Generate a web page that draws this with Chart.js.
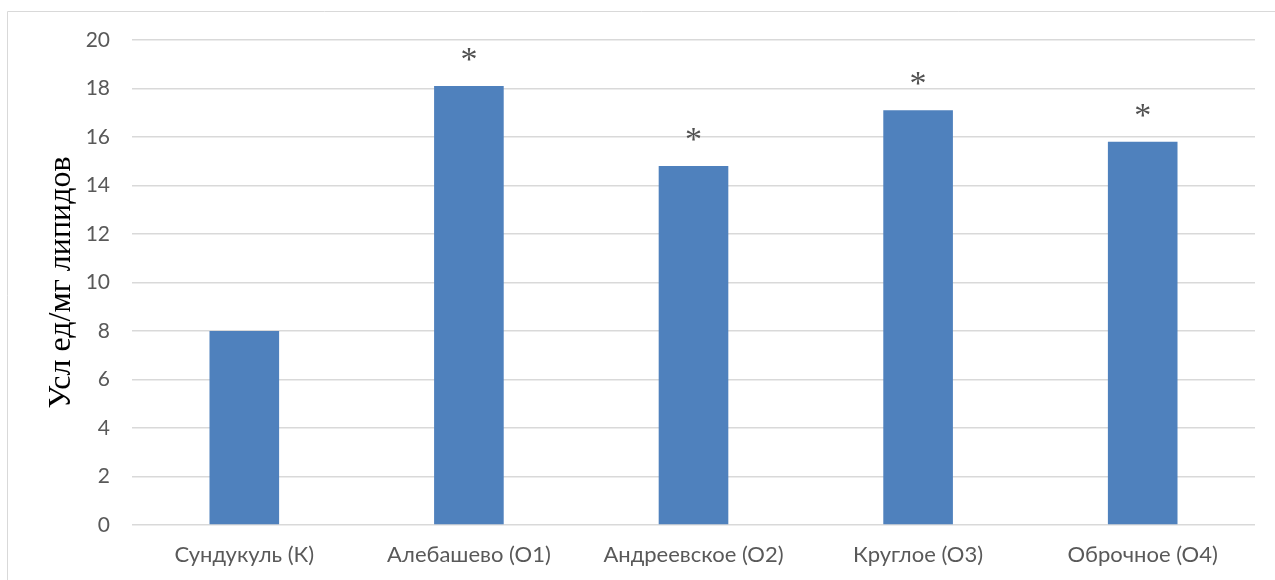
<!DOCTYPE html>
<html>
<head>
<meta charset="utf-8">
<script src="https://cdn.jsdelivr.net/npm/chart.js@4"></script>
<style>
  html, body { margin: 0; padding: 0; background: #fff; }
  #wrap { width: 1275px; height: 580px; position: relative; }
</style>
</head>
<body>
<div id="wrap"><canvas id="c" width="1275" height="580"></canvas></div>
<script>
// Lake sites and measured values
const categories = ['Сундукуль (К)', 'Алебашево (О1)', 'Андреевское (О2)', 'Круглое (О3)', 'Оброчное (О4)'];
const values = [8.0, 18.1, 14.8, 17.1, 15.8];
const marks = ['', '*', '*', '*', '*'];
const yTicks = [0, 2, 4, 6, 8, 10, 12, 14, 16, 18, 20];
const yTitle = 'Усл ед/мг липидов';

// Outer frame of the chart block (left and top edges)
const framePlugin = {
  id: 'frame',
  beforeDraw(chart) {
    const ctx = chart.ctx;
    ctx.save();
    ctx.strokeStyle = '#d9d9d9';
    ctx.lineWidth = 1;
    ctx.beginPath();
    ctx.moveTo(7.5, 580);
    ctx.lineTo(7.5, 11.5);
    ctx.lineTo(1275, 11.5);
    ctx.stroke();
    ctx.restore();
  }
};

// Significance asterisks above the bars
const marksPlugin = {
  id: 'marks',
  afterDatasetsDraw(chart) {
    const ctx = chart.ctx;
    const meta = chart.getDatasetMeta(0);
    const y = chart.scales.y;
    ctx.save();
    ctx.fillStyle = '#505050';
    ctx.font = '34px "Liberation Serif", "DejaVu Serif", serif';
    ctx.textAlign = 'center';
    ctx.textBaseline = 'alphabetic';
    meta.data.forEach((bar, i) => {
      if (!marks[i]) return;
      const top = y.getPixelForValue(values[i]);
      ctx.fillText(marks[i], bar.x, top - 16);
    });
    ctx.restore();
  }
};

new Chart(document.getElementById('c'), {
  type: 'bar',
  data: {
    labels: categories,
    datasets: [{
      data: values,
      backgroundColor: '#4f81bd',
      borderWidth: 0,
      barPercentage: 0.31,
      categoryPercentage: 1.0
    }]
  },
  options: {
    responsive: false,
    animation: false,
    layout: { padding: { left: 42, right: 20, top: 40, bottom: 0 } },
    plugins: {
      legend: { display: false },
      tooltip: { enabled: false }
    },
    scales: {
      x: {
        grid: { display: false, drawTicks: false },
        border: { display: false },
        ticks: {
          color: '#595959',
          padding: 17,
          font: { family: 'Lato, "Open Sans", sans-serif', size: 22 }
        },
        afterFit(scale) { scale.height = 55; }
      },
      y: {
        min: 0,
        max: 20,
        afterBuildTicks(scale) { scale.ticks = yTicks.map(v => ({ value: v })); },
        grid: { color: '#d9d9d9', lineWidth: 1.5, drawTicks: false },
        border: { display: false },
        ticks: {
          color: '#595959',
          padding: 22,
          font: { family: 'Lato, "Open Sans", sans-serif', size: 21 }
        },
        title: {
          display: true,
          text: yTitle,
          color: '#000',
          padding: { top: 0, bottom: 0 },
          font: { family: '"Liberation Serif", "DejaVu Serif", serif', size: 32 }
        },
        afterFit(scale) { scale.width = 90; }
      }
    }
  },
  plugins: [framePlugin, marksPlugin]
});
</script>
</body>
</html>
